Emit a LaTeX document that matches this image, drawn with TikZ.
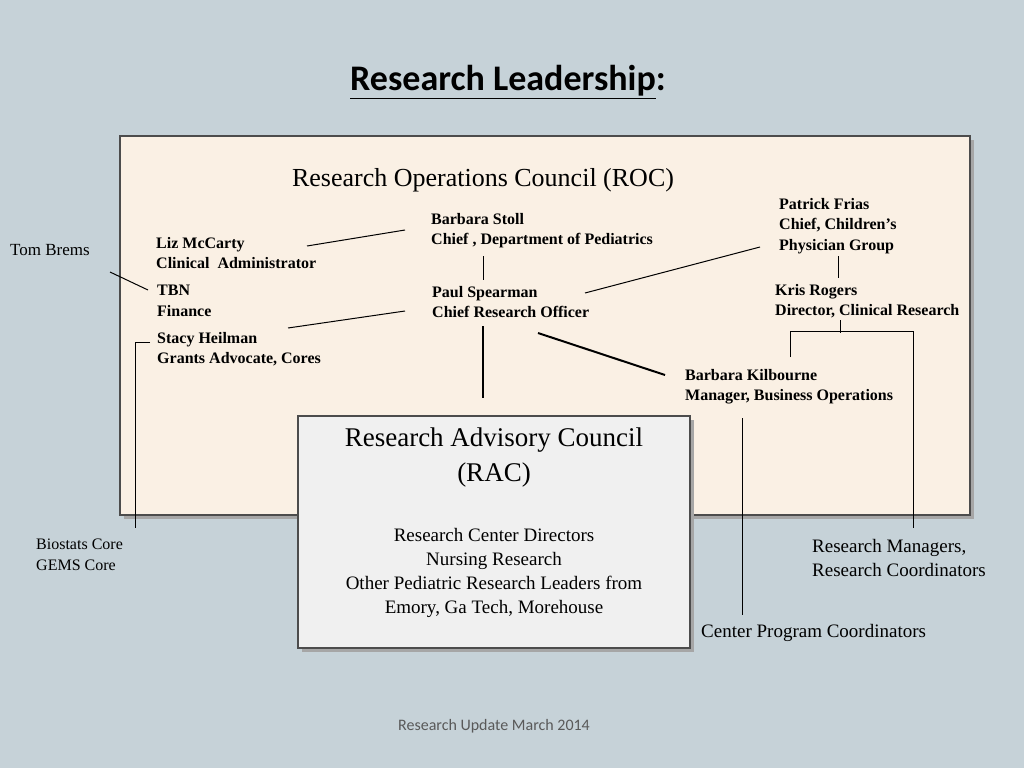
\documentclass[tikz,border=0pt]{standalone}
\usepackage{fontspec}
\setmainfont{Liberation Serif}
\newfontfamily\carlitofont{Carlito}
\begin{document}
\begin{tikzpicture}[x=1pt,y=-1pt,
  nm/.style={anchor=north west,font=\fontsize{16}{20.5}\selectfont\bfseries,align=left,inner sep=0},
  pl/.style={anchor=north west,font=\fontsize{17}{21}\selectfont,align=left,inner sep=0},
  ln/.style={line width=1pt}]
\fill[fill={rgb,255:red,198;green,210;blue,216}] (0,0) rectangle (1024,768);
\useasboundingbox (0,0) rectangle (1024,768);
\node[font=\carlitofont\fontsize{36}{40}\selectfont\bfseries] (title) at (508,82) {\underline{Research Leadership}:};
\fill[gray!70] (124,140) rectangle (974,519);
\draw[fill={rgb,255:red,250;green,240;blue,228},draw=gray!60!black,line width=1.2pt] (120,136) rectangle (970,515);
\node[font=\fontsize{26}{30}\selectfont] (roc) at (483,180) {Research Operations Council (ROC)};
\node[nm] (bs) at (431,213) {Barbara Stoll\\Chief , Department of Pediatrics};
\node[nm] (lm) at (156,237) {Liz McCarty\\Clinical\ \ Administrator};
\node[nm] (pf) at (779,198) {Patrick Frias\\Chief, Children’s\\Physician Group};
\node[nm] (tbn) at (157,285) {TBN\\Finance};
\node[nm] (ps) at (432,286) {Paul Spearman\\Chief Research Officer};
\node[nm] (kr) at (775,284) {Kris Rogers\\Director, Clinical Research};
\node[nm] (sh) at (157,332) {Stacy Heilman\\Grants Advocate, Cores};
\node[nm] (bk) at (685,369) {Barbara Kilbourne\\Manager, Business Operations};
\node[pl] (tb) at (10,244) {Tom Brems};
\node[anchor=north west,font=\fontsize{16}{20.5}\selectfont,align=left,inner sep=0] (bc) at (36,539) {Biostats Core\\GEMS Core};
\node[font=\fontsize{19}{24}\selectfont,align=left,anchor=north west,inner sep=0] (rm) at (812,539) {Research Managers,\\Research Coordinators};
\node[font=\fontsize{19}{24}\selectfont,anchor=north west,inner sep=0] (cp) at (701,624) {Center Program Coordinators};
\fill[gray!70] (302,420) rectangle (694,652);
\draw[fill={rgb,255:red,240;green,240;blue,240},draw=gray!60!black,line width=1.2pt] (298,416) rectangle (690,648);
\node[font=\fontsize{27}{35}\selectfont,align=center] (rac) at (494,458) {Research Advisory Council\\(RAC)};
\node[font=\fontsize{19}{24}\selectfont,align=center] (racl) at (494,573) {Research Center Directors\\Nursing Research\\Other Pediatric Research Leaders from\\Emory, Ga Tech, Morehouse};
\node[font=\carlitofont\fontsize{16}{18}\selectfont,text=gray!70!black] (ft) at (494,726) {Research Update March 2014};
\draw[ln] (307,246) -- (405,230);
\draw[ln] (483,256) -- (483,280);
\draw[ln] (838,256) -- (838,278);
\draw[ln] (585,293) -- (760,247);
\draw[ln] (288,328) -- (405,311);
\draw[line width=1.5pt] (483,326) -- (483,398);
\draw[line width=2pt] (538,333) -- (665,375);
\draw[ln] (110,272) -- (148,290);
\draw[ln] (150,342) -- (135,342) -- (135,528);
\draw[ln] (840,320) -- (840,333);
\draw[ln] (790,357) -- (790,331) -- (913,331) -- (913,528);
\draw[ln] (742,418) -- (742,615);
\end{tikzpicture}
\end{document}
